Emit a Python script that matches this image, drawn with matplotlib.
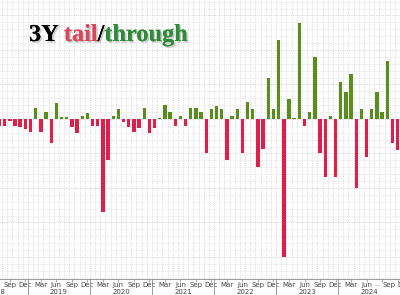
import numpy as np
import pandas as pd
import matplotlib
matplotlib.use("Agg")
import matplotlib.pyplot as plt
import matplotlib.patheffects as pe

# monthly 3Y auction tail(-)/through(+) in bp, Jul 2018 .. Dec 2024
months = pd.date_range("2018-07-01", periods=78, freq="MS")
values = [-0.10, -0.10, -0.03, -0.10, -0.12, -0.15,
          -0.19, 0.16, -0.19, 0.10, -0.35, 0.23, 0.03, 0.03, -0.12, -0.20, 0.04, 0.09,
          -0.10, -0.10, -1.35, -0.59, 0.04, 0.14, -0.04, -0.12, -0.19, -0.13, 0.16, -0.20,
          -0.13, 0.01, 0.20, 0.10, -0.10, 0.04, -0.10, 0.16, 0.16, 0.10, -0.49, 0.14,
          0.19, 0.14, -0.59, 0.04, 0.14, -0.49, 0.25, 0.14, -0.70, -0.43, 0.59, 0.14,
          1.14, -2.00, 0.29, 0.01, 1.39, -0.10, 0.10, 0.90, -0.49, -0.84, 0.04, -0.84,
          0.54, 0.39, 0.65, -1.00, 0.14, -0.55, 0.14, 0.39, 0.10, 0.84, -0.35, -0.45]
month_abbr = {3: "Mar", 6: "Jun", 9: "Sep", 12: "Dec"}

GREEN = "#5a8c1e"
RED = "#dc1f4b"

vals = np.array(values)
x = np.arange(len(vals))
cols = np.where(vals >= 0, GREEN, RED)

fig = plt.figure(figsize=(4, 2.95), dpi=100)
ax = fig.add_axes([0, 16 / 295, 1, 279 / 295])

ax.bar(x, vals, width=0.65, color=cols, zorder=3)

ax.set_xlim(0.1, 0.1 + 400 / 5.17)
ax.set_ylim(-160 / 69, 119 / 69)

# dotted background grid: every month and every 0.1bp
for xv in np.arange(-1, len(vals) + 1) - 0.5:
    ax.axvline(xv, color="#c4c4c4", lw=0.5, ls=(0, (1, 1.6)), zorder=1)
for yv in np.arange(-2.3, 1.75, 0.1):
    major = abs(yv * 2 - round(yv * 2)) < 1e-6
    ax.axhline(yv, color="#b8b8b8" if major else "#d4d4d4", lw=0.5,
               ls=(0, (1, 1.6)), zorder=1)

for s in ["top", "left", "right"]:
    ax.spines[s].set_visible(False)
ax.spines["bottom"].set_color("#8a8a8a")
ax.spines["bottom"].set_linewidth(0.6)
ax.set_yticks([])

qpos = [i for i, m in enumerate(months) if m.month in month_abbr]
qlab = [month_abbr[months[i].month] for i in qpos]
# the last two quarter labels (Sep, Dec 2024) sit a little to the right in the original
shifted = qpos[-2:]
ax.set_xticks(qpos[:-2], qlab[:-2])
ax.set_xticks(shifted, minor=True)
ax.tick_params(axis="x", which="both", length=2, width=0.5, color="#8a8a8a", pad=0.5,
               labelsize=5, labelcolor="#444444")

tr = ax.get_xaxis_transform()
for p, l in zip(shifted, qlab[-2:]):
    ax.text(p + 6.5 / 5.17, -6 / 279, l, transform=tr, ha="center", va="center",
            fontsize=5, color="#444444")
ax.text(73.1, -5 / 279, "...", transform=tr, ha="center", va="center",
        fontsize=4.5, color="#444444")

# year separators and year labels
for i, m in enumerate(months):
    if m.month == 1:
        ax.plot([i - 0.5, i - 0.5], [0, -16 / 279], transform=tr, color="#8a8a8a",
                lw=0.6, clip_on=False)
years = sorted(set(m.year for m in months))
for yr in years:
    j = (yr - 2018) * 12 - 6
    ax.text(j + 5.5, -13 / 279, str(yr), transform=tr, ha="center", va="center",
            fontsize=5, color="#444444", clip_on=False)

# title
shadow = [pe.withSimplePatchShadow(offset=(1.2, -1.2), shadow_rgbFace="#999999", alpha=0.5),
          pe.Normal()]
parts = [("3Y ", "black"), ("tail", "#d9475a"), ("/", "black"), ("through", "#2f8a3a")]
fig.canvas.draw()
r = fig.canvas.get_renderer()
xpix = 29
for txt, c in parts:
    t = fig.text(xpix / 400, 1 - 41 / 295, txt, color=c, fontsize=17.5, fontweight="bold",
                 family="Liberation Serif", ha="left", va="baseline", path_effects=shadow)
    bb = t.get_window_extent(renderer=r)
    xpix += bb.width

fig.savefig("out.png", dpi=100)
